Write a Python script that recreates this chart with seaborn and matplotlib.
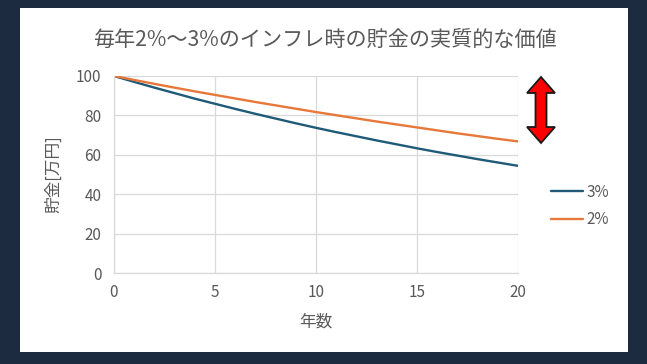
import matplotlib
matplotlib.use("Agg")
import matplotlib.pyplot as plt
import matplotlib.patches as mpatches
import pandas as pd
import seaborn as sns

# values (万円, per year)
years = list(range(0, 21))
rate3_values = [100.0, 97.0, 94.1, 91.3, 88.5, 85.9, 83.3, 80.8, 78.4, 76.0, 73.7,
                71.5, 69.4, 67.3, 65.3, 63.3, 61.4, 59.6, 57.8, 56.1, 54.4]
rate2_values = [100.0, 98.0, 96.0, 94.1, 92.2, 90.4, 88.6, 86.8, 85.1, 83.4, 81.7,
                80.1, 78.5, 76.9, 75.4, 73.9, 72.4, 70.9, 69.5, 68.1, 66.8]
series_labels = ["3%", "2%"]
x_ticks = [0, 5, 10, 15, 20]
y_ticks = [0, 20, 40, 60, 80, 100]

title_text = "毎年2%～3%のインフレ時の貯金の実質的な価値"
x_label = "年数"
y_label = "貯金[万円]"

BG = "#1c2b40"
TEXT = "#595959"
GRID = "#d9d9d9"
PALETTE = {"3%": "#1f5a78", "2%": "#e8773a"}

sns.set_theme(style="white")
plt.rcParams["font.family"] = ["Noto Sans CJK JP", "DejaVu Sans"]

W, H = 647, 364
fig = plt.figure(figsize=(W / 100, H / 100), dpi=100, facecolor=BG)

# white slide panel, kept behind the axes
fig.patches.append(mpatches.Rectangle((20 / W, 1 - 352 / H), 608 / W, 344 / H,
                                      transform=fig.transFigure, facecolor="white",
                                      edgecolor="none", zorder=-5))

ax = fig.add_axes([114 / W, 1 - 273 / H, 404 / W, 197 / H])
ax.set_zorder(1)
ax.set_facecolor("white")

df = pd.DataFrame({
    "年数": years * 2,
    "貯金": rate3_values + rate2_values,
    "rate": [series_labels[0]] * len(years) + [series_labels[1]] * len(years),
})
sns.lineplot(data=df, x="年数", y="貯金", hue="rate", hue_order=series_labels,
             palette=PALETTE, linewidth=1.7, ax=ax)

ax.set_xlim(0, 20)
ax.set_ylim(0, 100)
ax.set_xticks(x_ticks)
ax.set_yticks(y_ticks)
ax.grid(True, color=GRID, linewidth=0.9)
ax.set_axisbelow(True)
for side in ["top", "right"]:
    ax.spines[side].set_visible(False)
for side in ["left", "bottom"]:
    ax.spines[side].set_color(GRID)
    ax.spines[side].set_linewidth(0.9)
ax.tick_params(axis="both", length=0, labelsize=11, labelcolor=TEXT)
ax.tick_params(axis="x", pad=8)
ax.tick_params(axis="y", pad=9)
ax.set_xlabel(x_label, fontsize=12, color=TEXT)
ax.set_ylabel(y_label, fontsize=12, color=TEXT)
ax.xaxis.set_label_coords(0.5, -0.205)
ax.yaxis.set_label_coords(-0.128, 0.5)

ax.legend(loc="center left", bbox_to_anchor=(551 / W, 1 - 206 / H),
          bbox_transform=fig.transFigure, frameon=False, fontsize=11,
          labelcolor=TEXT, handlelength=2.1, handletextpad=0.2, labelspacing=0.7,
          borderpad=0, borderaxespad=0)

fig.text(325 / W, 1 - 40 / H, title_text, ha="center", va="center",
         fontsize=15.2, color=TEXT)

# red double arrow beside the end of the lines
cx, top, bot = 541, 77, 143
hw, sw, hl = 14, 5.5, 16
pts = [(cx, top), (cx + hw, top + hl), (cx + sw, top + hl), (cx + sw, bot - hl),
       (cx + hw, bot - hl), (cx, bot), (cx - hw, bot - hl), (cx - sw, bot - hl),
       (cx - sw, top + hl), (cx - hw, top + hl)]
pts = [(x / W, 1 - y / H) for x, y in pts]
fig.patches.append(mpatches.Polygon(pts, closed=True, transform=fig.transFigure,
                                    facecolor="#ff0000", edgecolor="#1a1a1a",
                                    linewidth=1.3, zorder=5))

fig.savefig("out.png", dpi=100, facecolor=BG)
